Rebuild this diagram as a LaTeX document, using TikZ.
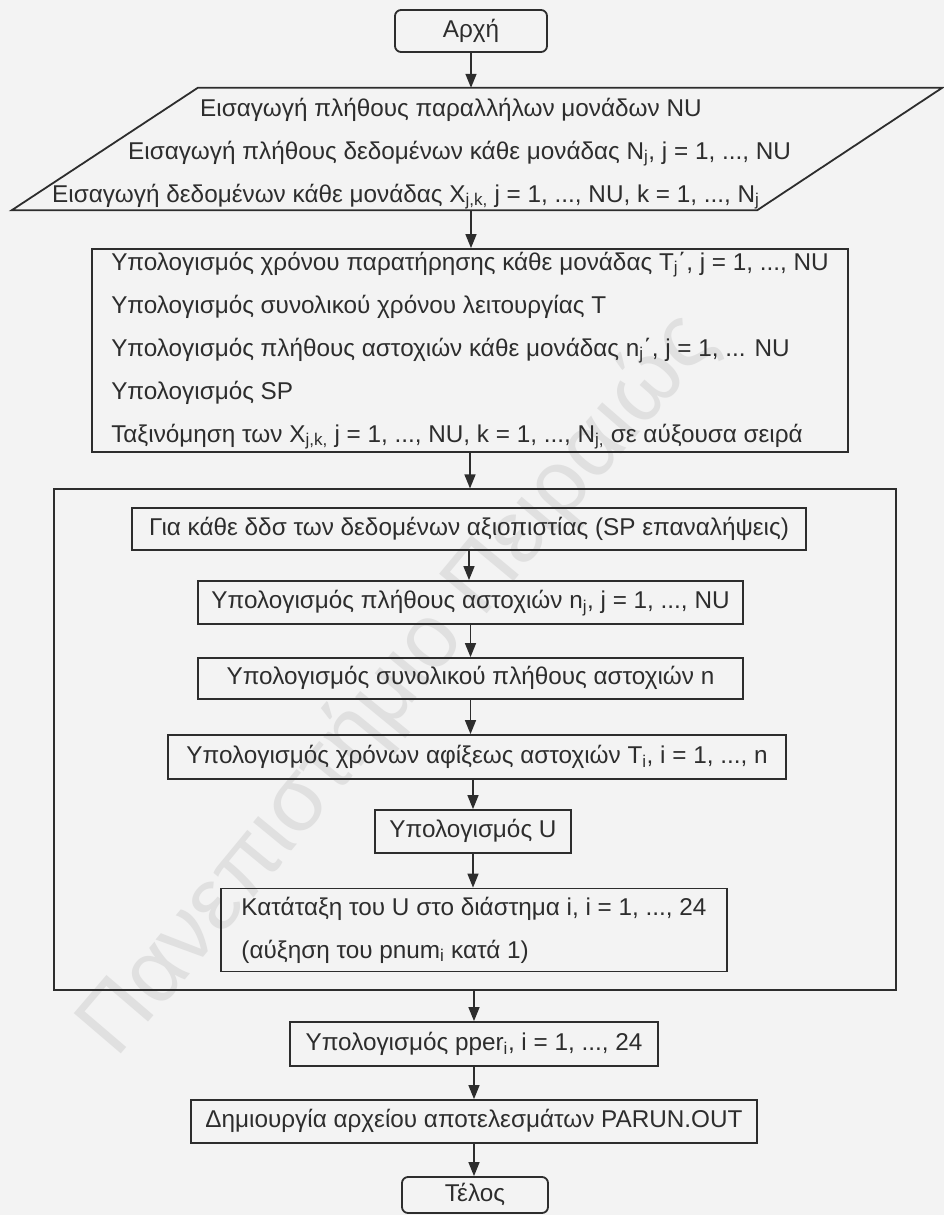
\documentclass[tikz,border=0pt]{standalone}
\usepackage{fontspec}
\setmainfont{Liberation Sans}
\usetikzlibrary{arrows.meta,decorations.text}
\definecolor{paper}{RGB}{243,243,243}
\definecolor{ink}{RGB}{45,45,45}
\definecolor{wmark}{RGB}{224,224,224}
\newcommand\sbs[1]{\textsubscript{#1}}

\begin{document}
\begin{tikzpicture}[x=1pt,y=-1pt,
  every node/.style={font=\fontsize{24.3}{43}\selectfont, text=ink},
  box/.style={draw=ink, line width=1.8pt, rectangle, inner sep=0pt,
              text height=17.5pt, text depth=5pt},
  term/.style={box, rounded corners=6pt},
  multi/.style={draw=ink, line width=1.8pt, align=left, inner sep=0pt},
  txt/.style={inner sep=0pt, anchor=base west},
  flow/.style={draw=ink, line width=1.5pt, -{Triangle[length=14pt,width=11pt]}},
]
% page
\fill[paper] (0,0) rectangle (944,1215);
\useasboundingbox (0,0) rectangle (944,1215);

% faint watermark behind the chart
\path[decorate, decoration={text along path, text align=center,
  text={|\fontsize{90}{90}\selectfont\color{wmark}|Πανεπιστήμιο Πειραιώς}}]
  (95,1085) .. controls (300,850) and (520,560) .. (740,320);

% start
\node[term, minimum width=152pt, minimum height=42pt] (start) at (471,31) {Αρχή};

% input (parallelogram)
\node[minimum width=930pt, minimum height=122pt, inner sep=0pt] (input) at (477,149) {};
\draw[ink, line width=1.8pt] ([xshift=186pt]input.north west) -- (input.north east)
  -- ([xshift=-185pt]input.south east) -- (input.south west) -- cycle;
\node[txt] (in1) at (200,116) {Εισαγωγή πλήθους παραλλήλων μονάδων NU};
\node[txt] (in2) at (128,159) {Εισαγωγή πλήθους δεδομένων κάθε μονάδας N\sbs{j}, j = 1, ..., NU};
\node[txt] (in3) at (52,202) {Εισαγωγή δεδομένων κάθε μονάδας X\sbs{j,k,} j = 1, ..., NU, k = 1, ..., N\sbs{j}};

% preliminary calculations
\node[multi, minimum width=756pt, minimum height=203pt] (calc) at (470,350.5)
  {Υπολογισμός χρόνου παρατήρησης κάθε μονάδας T\sbs{j}΄, j = 1, ..., NU\\
   Υπολογισμός συνολικού χρόνου λειτουργίας T\\
   Υπολογισμός πλήθους αστοχιών κάθε μονάδας n\sbs{j}΄, j = 1, ... NU\\
   Υπολογισμός SP\\
   Ταξινόμηση των X\sbs{j,k,} j = 1, ..., NU, k = 1, ..., N\sbs{j,} σε αύξουσα σειρά};

% simulation loop frame
\node[draw=ink, line width=1.1pt, minimum width=842pt, minimum height=501pt, inner sep=0pt]
  (loop) at (475,739.5) {};

\node[box, minimum width=674pt, minimum height=42pt] (each) at (469,529)
  {Για κάθε δδσ των δεδομένων αξιοπιστίας (SP επαναλήψεις)};
\node[box, minimum width=545pt, minimum height=43pt] (nj) at (470.5,602.5)
  {Υπολογισμός πλήθους αστοχιών n\sbs{j}, j = 1, ..., NU};
\node[box, minimum width=545pt, minimum height=41pt] (ntot) at (470.5,678.5)
  {Υπολογισμός συνολικού πλήθους αστοχιών n};
\node[box, minimum width=618pt, minimum height=44pt] (arrive) at (477,757)
  {Υπολογισμός χρόνων αφίξεως αστοχιών T\sbs{i}, i = 1, ..., n};
\node[box, minimum width=196pt, minimum height=43pt] (uval) at (473,831.5)
  {Υπολογισμός U};
\node[multi, minimum width=506pt, minimum height=83pt] (rank) at (474,930)
  {Κατάταξη του U στο διάστημα i, i = 1, ..., 24\\
   (αύξηση του pnum\sbs{i} κατά 1)};

% results
\node[box, minimum width=368pt, minimum height=44pt] (pper) at (474,1044)
  {Υπολογισμός pper\sbs{i}, i = 1, ..., 24};
\node[box, minimum width=566pt, minimum height=43pt] (outf) at (474,1121.5)
  {Δημιουργία αρχείου αποτελεσμάτων PARUN.OUT};
\node[term, minimum width=146pt, minimum height=36pt] (stop) at (475,1195)
  {Τέλος};

% connectors
\draw[flow] (start.south) -- (start.south |- input.north);
\draw[flow] (start.south |- input.south) -- (start.south |- calc.north);
\draw[flow] (calc.south) -- (calc.south |- loop.north);
\draw[flow] (each.south) -- (each.south |- nj.north);
\draw[flow] (nj.south) -- (nj.south |- ntot.north);
\draw[flow] (ntot.south) -- (ntot.south |- arrive.north);
\draw[flow] (uval.north |- arrive.south) -- (uval.north);
\draw[flow] (uval.south) -- (uval.south |- rank.north);
\draw[flow] (pper.north |- loop.south) -- (pper.north);
\draw[flow] (pper.south) -- (pper.south |- outf.north);
\draw[flow] (outf.south) -- (outf.south |- stop.north);
\end{tikzpicture}
\end{document}
